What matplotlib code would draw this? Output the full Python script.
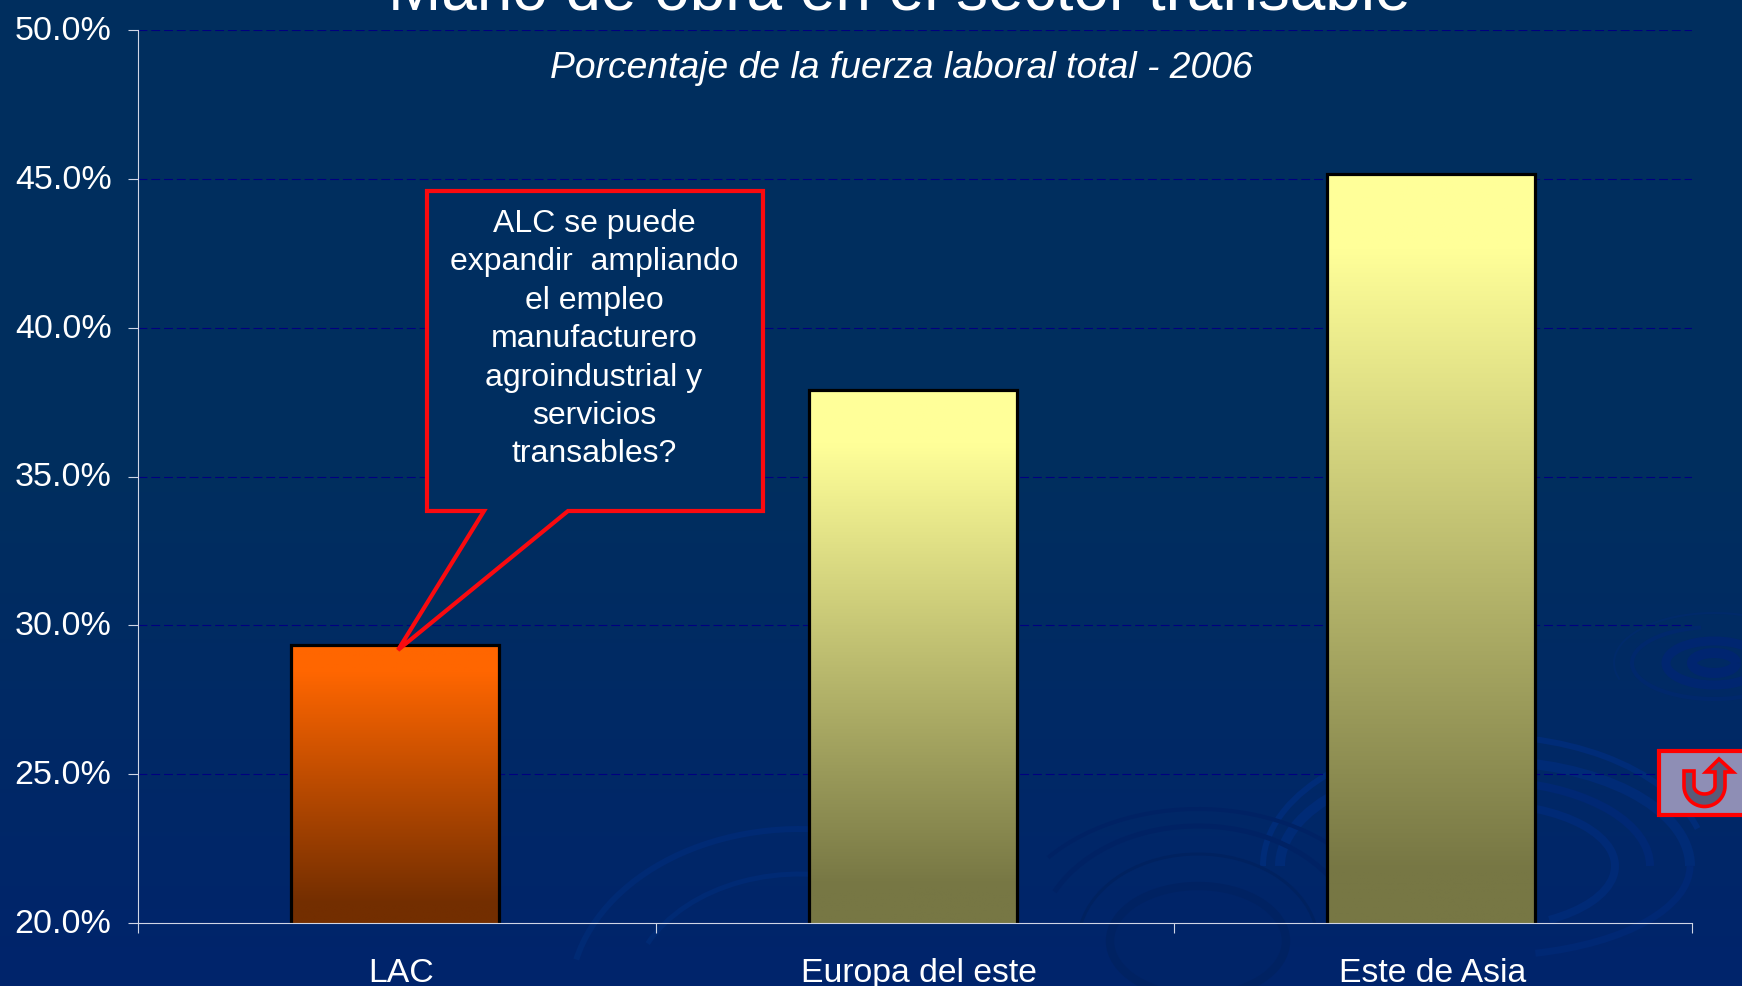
import numpy as np
import matplotlib
matplotlib.use("Agg")
import matplotlib.pyplot as plt
from matplotlib.colors import LinearSegmentedColormap
from matplotlib.patches import Arc, Ellipse, Polygon, Rectangle
from matplotlib.transforms import ScaledTranslation

title = "Mano de obra en el sector transable"
subtitle = "Porcentaje de la fuerza laboral total - 2006"
categories = ["LAC", "Europa del este", "Este de Asia"]
values = [29.35, 37.9, 45.15]
bar_top_colors = ["#FF6600", "#FFFF99", "#FFFF99"]
bar_bottom_colors = ["#732E00", "#777744", "#777744"]
y_ticks = [20, 25, 30, 35, 40, 45, 50]
callout_lines = ["ALC se puede", "expandir  ampliando", "el empleo", "manufacturero",
                 "agroindustrial y", "servicios", "transables?"]

W, H = 1742, 987
plt.rcParams["font.family"] = ["Liberation Sans", "DejaVu Sans"]
fig = plt.figure(figsize=(W / 100, H / 100), dpi=100)

# background, in pixel coordinates
bg = fig.add_axes([0, 0, 1, 1], zorder=0)
bg.axis("off")
cm = LinearSegmentedColormap.from_list("bg", ["#002E5E", "#002E5F", "#00246C"])
bg.imshow(np.linspace(0, 1, 256)[:, None], cmap=cm, aspect="auto", extent=(0, W, H, 0), zorder=0)
bg.set_xlim(0, W); bg.set_ylim(H, 0)
# faint water ripples: centre x, y, radii, stroke width, colour, start and end angle
ripples = [
    (1714, 664, 22, 10, 10, "#002570", 0, 360), (1714, 664, 48, 22, 9, "#002670", 0, 360),
    (1714, 664, 82, 36, 4, "#00286C", 20, 250), (1714, 664, 100, 50, 2, "#002A6A", 170, 340),
    (1485, 867, 222, 130, 6, "#002C78", 180, 350), (1485, 867, 205, 105, 10, "#002B76", 180, 360),
    (1485, 867, 165, 85, 8, "#002874", 190, 360), (1485, 867, 130, 62, 8, "#002A76", 200, 400),
    (1485, 867, 205, 90, 7, "#002874", 0, 60),
    (1198, 945, 120, 90, 3, "#002260", 190, 350), (1198, 945, 160, 118, 5, "#002264", 200, 350),
    (1198, 945, 195, 135, 4, "#002264", 210, 340),
    (800, 1000, 230, 170, 6, "#002A74", 190, 290), (800, 1000, 170, 125, 5, "#002A74", 200, 300),
]
for cx, cy, rx, ry, lw, col, a0, a1 in ripples:
    bg.add_patch(Arc((cx, cy), 2 * rx, 2 * ry, theta1=a0, theta2=a1, ec=col, lw=lw * 0.72, zorder=1))
bg.add_patch(Ellipse((1198, 942), 176, 110, fc="#002468", ec="#002262", lw=6, zorder=1))

# main chart
ax = fig.add_axes([138 / W, 1 - 924 / H, (1692 - 138) / W, (924 - 31) / H], zorder=2)
ax.patch.set_alpha(0)
ax.set_yticks(y_ticks)
ax.set_yticklabels([f"{v:.1f}%" for v in y_ticks], fontsize=24.5, color="white")
ax.set_xticks([-0.5, 0.5, 1.5, 2.5])
ax.set_xticklabels([])
ax.tick_params(axis="y", length=7, width=0.8, color="#D0D6E6", pad=12)
ax.tick_params(axis="x", length=7, width=0.8, color="#D0D6E6")
up = ScaledTranslation(0, 3 / 100, fig.dpi_scale_trans)
for lab in ax.get_yticklabels():
    lab.set_transform(lab.get_transform() + up)
for s in ("top", "right"):
    ax.spines[s].set_visible(False)
for s in ("left", "bottom"):
    ax.spines[s].set_color("#D0D6E6")
    ax.spines[s].set_linewidth(0.8)
    ax.spines[s].set_zorder(6)
ax.yaxis.grid(True, color="#000080", lw=0.8, ls=(0, (8, 3.5)), zorder=1)
ax.set_axisbelow(True)

positions = [i - 0.004 for i in range(3)]
bars = ax.bar(positions, values, width=0.4, facecolor="none", edgecolor="black",
              linewidth=2.3, zorder=4)
for b, top, bot in zip(bars, bar_top_colors, bar_bottom_colors):
    g = LinearSegmentedColormap.from_list("g", [(0, top), (0.1, top), (0.93, bot), (1, bot)])
    x0, x1 = b.get_x(), b.get_x() + b.get_width()
    im = ax.imshow(np.linspace(0, 1, 256)[:, None], cmap=g, aspect="auto",
                   extent=(x0, x1, 20, b.get_height()), zorder=3)
    im.set_clip_path(b)
ax.set_xlim(-0.5, 2.5)
ax.set_ylim(20, 50)
for i, c in enumerate(categories):
    ax.annotate(c, (i, 20), xytext=(4 if i < 2 else 0, -50), textcoords="offset pixels",
                ha="center", va="center", fontsize=24.3, color="white", annotation_clip=False)

# overlay in pixel coordinates
ov = fig.add_axes([0, 0, 1, 1], zorder=3)
ov.set_xlim(0, W); ov.set_ylim(H, 0); ov.axis("off")
ov.text(899, 10, title, fontsize=46, color="white", ha="center", va="baseline")
ov.text(901, 69, subtitle, fontsize=26.8, style="italic", color="white", ha="center", va="center")

ov.add_patch(Polygon([(427, 192), (763, 192), (763, 512), (568, 512), (398, 651), (484, 512), (427, 512)],
                     closed=True, fc="#002E60", ec="#FA0A0F", lw=3, joinstyle="miter", zorder=5))
for i, line in enumerate(callout_lines):
    ov.text(594, 224 + i * 38.4, line, fontsize=23, color="white", ha="center", va="center", zorder=6)

# return button
ov.add_patch(Rectangle((1659, 752), 100, 64, fc="#8E8EB5", ec="#FF0000", lw=3, zorder=5))
t = np.linspace(np.pi, 0, 30)
ux, uy = 1704.5, 787
outer = [(ux + 20.5 * np.cos(a), uy + 20.5 * np.sin(a)) for a in t]
inner = [(ux + 10.5 * np.cos(a), uy + 8 * np.sin(a)) for a in t[::-1]]
verts = [(1684, 772)] + outer + [(1725, 773), (1733, 773), (1719, 760), (1706, 773), (1715, 773)] + inner + [(1694, 772)]
ov.add_patch(Polygon(verts, closed=True, fc="#5A5A78", ec="#FF0000", lw=2.6, joinstyle="miter", zorder=6))

fig.savefig("out.png", dpi=100)
